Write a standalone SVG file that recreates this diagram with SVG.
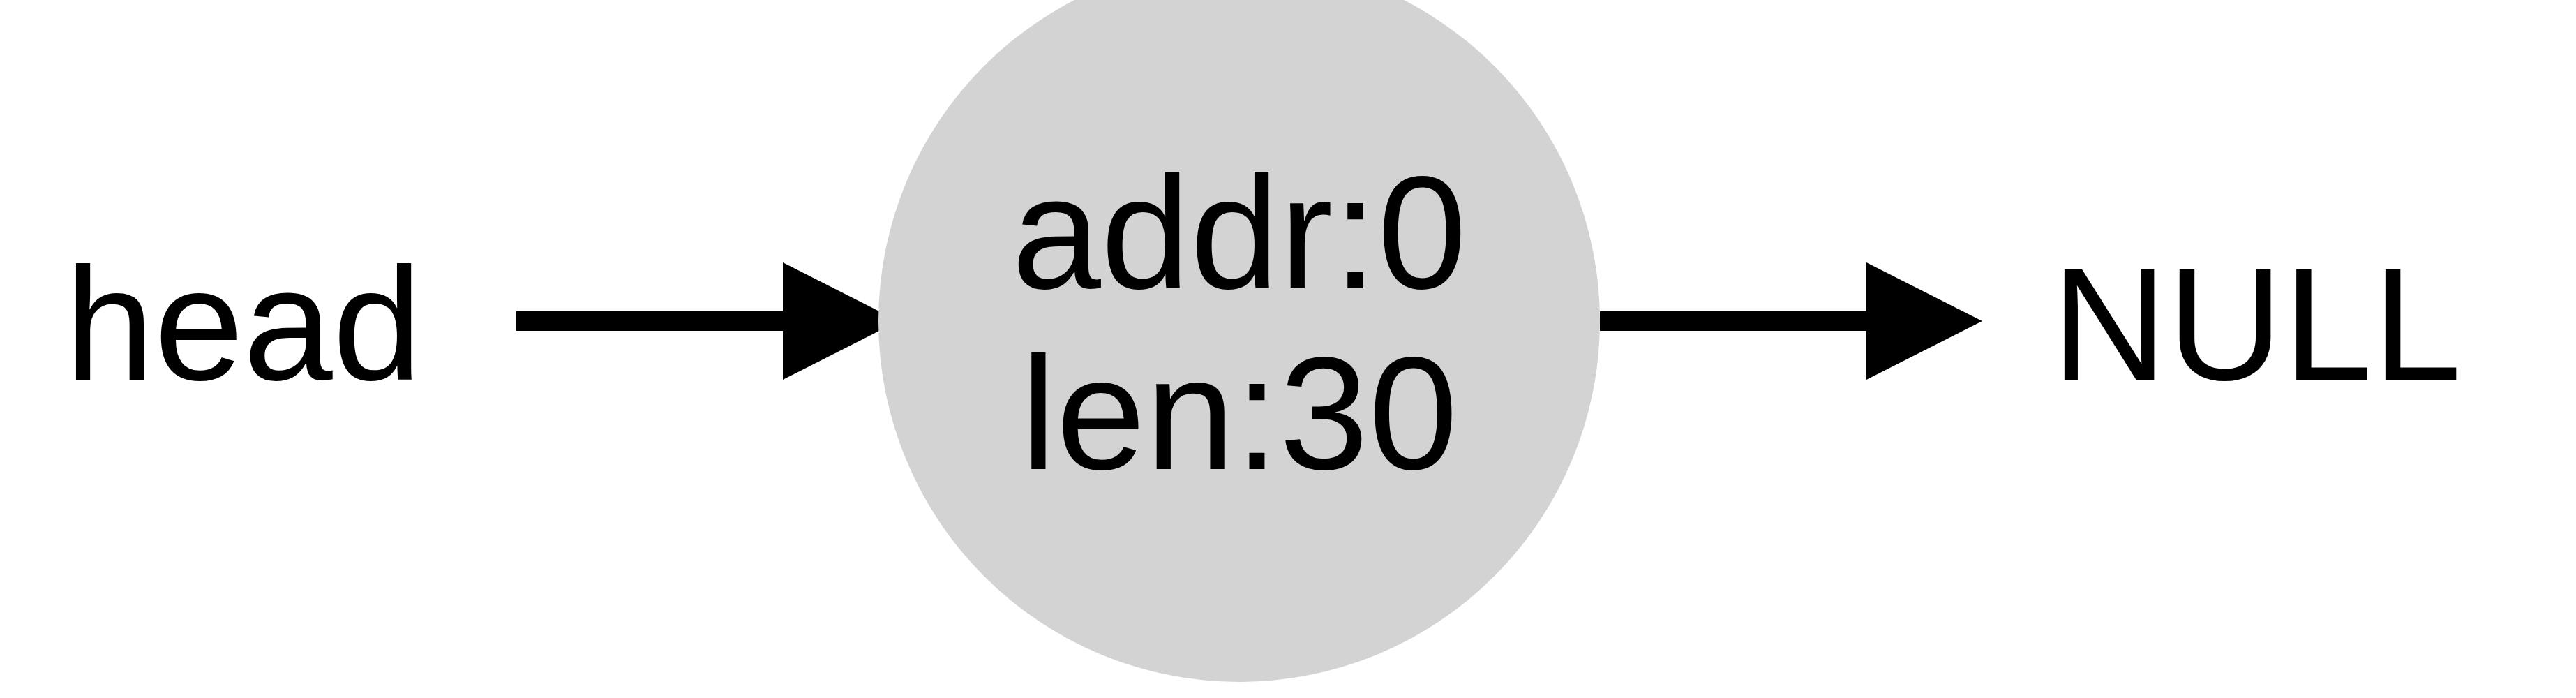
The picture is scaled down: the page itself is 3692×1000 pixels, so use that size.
<svg xmlns="http://www.w3.org/2000/svg" width="3692" height="1000" viewBox="0 0 3692 1000">
  <style>
    .lbl { font-family: "Liberation Sans", Arial, Helvetica, sans-serif; font-size: 230px; fill: #000; }
    .edge { stroke: #000; stroke-width: 28; fill: none; }
    .node-shape { fill: #d3d3d3; stroke: none; }
  </style>
  <defs>
    <marker id="arrow" markerUnits="userSpaceOnUse" markerWidth="166" markerHeight="168" viewBox="0 0 166 168" refX="0" refY="84" orient="auto" overflow="visible">
      <polygon points="0,0 166,84 0,168" fill="#000"/>
    </marker>
  </defs>
  <rect width="3692" height="1000" fill="#fff"/>
  <g id="connectors">
    <path id="edge-head-node" class="edge" d="M740,460 L1122,460" marker-end="url(#arrow)"/>
    <path id="edge-node-null" class="edge" d="M2293,460 L2675,460" marker-end="url(#arrow)"/>
  </g>
  <g id="head">
    <text class="lbl" x="93" y="544">head</text>
  </g>
  <g id="node0">
    <circle class="node-shape" cx="1776" cy="460" r="517"/>
    <text class="lbl" x="1776" y="413" text-anchor="middle">addr:0</text>
    <text class="lbl" x="1776" y="672" text-anchor="middle">len:30</text>
  </g>
  <g id="null">
    <text class="lbl" x="2940" y="544">NULL</text>
  </g>
</svg>
